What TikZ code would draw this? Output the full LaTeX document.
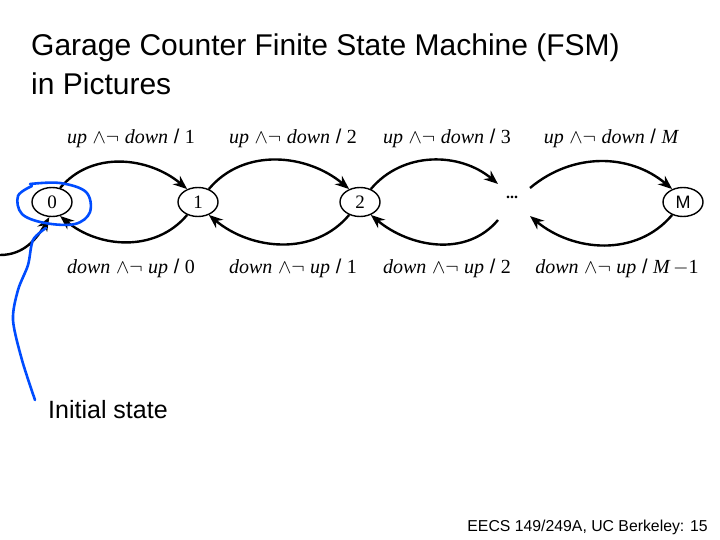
\documentclass[tikz,border=0pt]{standalone}
\usepackage{fix-cm}
\usepackage{fontspec}
\setmainfont{Liberation Sans}
\newfontfamily\tms{Liberation Serif}
\usetikzlibrary{arrows.meta,shapes.geometric}
\newcommand{\ul}[1]{{\tms\itshape #1}}
\begin{document}
\begin{tikzpicture}[x=1pt,y=-1pt,
 st/.style={draw,ellipse,line width=1.4pt,minimum width=40pt,minimum height=29pt,inner sep=0pt,font=\tms\fontsize{19}{19}\selectfont},
 tr/.style={line width=2.4pt,-{Stealth[length=14pt,width=11pt]}},
 lab/.style={font=\fontsize{20}{20}\selectfont},
 ann/.style={draw=blue!70!cyan,line width=2.6pt,line cap=round,line join=round}]
\useasboundingbox (0,0) rectangle (720,540);
\node[anchor=west,inner sep=0pt,font=\fontsize{30}{30}\selectfont] (t1) at (31,48) {Garage Counter Finite State Machine (FSM)};
\node[anchor=west,inner sep=0pt,font=\fontsize{30}{30}\selectfont] (t2) at (31,84) {in Pictures};
\node[st] (s0) at (52,202) {0};
\node[st] (s1) at (198,202) {1};
\node[st] (s2) at (360,202) {2};
\node[font=\tms\bfseries\fontsize{16}{16}\selectfont] (sd) at (512,197) {...};
\node[st,font=\fontsize{18}{18}\selectfont] (sM) at (683,202) {M};
\coordinate (dU1) at (498,184);
\coordinate (dD1) at (498,220);
\coordinate (dU2) at (530,188);
\coordinate (dD2) at (530,216);
\draw[tr] (s0.60) to[out=50,in=140] (s1.130);
\draw[tr] (s1.50) to[out=50,in=140] (s2.130);
\draw[tr] (s2.50) to[out=50,in=140] (dU1);
\draw[tr] (dU2) to[out=40,in=140] (sM.130);
\draw[tr] (s1.-130) to[out=-130,in=-40] (s0.-60);
\draw[tr] (s2.-130) to[out=-130,in=-40] (s1.-50);
\draw[tr] (dD1) to[out=-130,in=-40] (s2.-50);
\draw[tr] (sM.-130) to[out=-130,in=-40] (dD2);
\coordinate (ini) at (0,255);
\draw[tr] (ini) to[out=0,in=-120] (s0.-100);
\foreach \x/\n in {131/1,293/2,447/3}
  \node[lab] (u\n) at (\x,138) {\ul{up} $\wedge \neg$ \ul{down} / {\tms\n}};
\node[lab] (uM) at (611,138) {\ul{up} $\wedge \neg$ \ul{down} / \ul{M}};
\foreach \x/\n in {131/0,293/1,447/2}
  \node[lab] (d\n) at (\x,268) {\ul{down} $\wedge \neg$ \ul{up} / {\tms\n}};
\node[lab] (dM) at (617,268) {\ul{down} $\wedge \neg$ \ul{up} / \ul{M}\,$-${\tms 1}};
\draw[ann] plot[smooth,tension=0.6] coordinates {(30,184) (60,183) (86,192) (90,212) (75,224) (45,223) (22,214) (18,196) (32,186)};
\draw[ann] plot[smooth,tension=0.5] coordinates {(46,228) (33,240) (28,265) (18,290) (13,320) (22,360) (35,400)};
\node[anchor=west,inner sep=0pt,font=\fontsize{25}{25}\selectfont] (is) at (48,410) {Initial state};
\node[anchor=east,inner sep=0pt,font=\fontsize{15.8}{15.8}\selectfont] (ft) at (708,527) {EECS 149/249A, UC Berkeley: 15};
\end{tikzpicture}
\end{document}
